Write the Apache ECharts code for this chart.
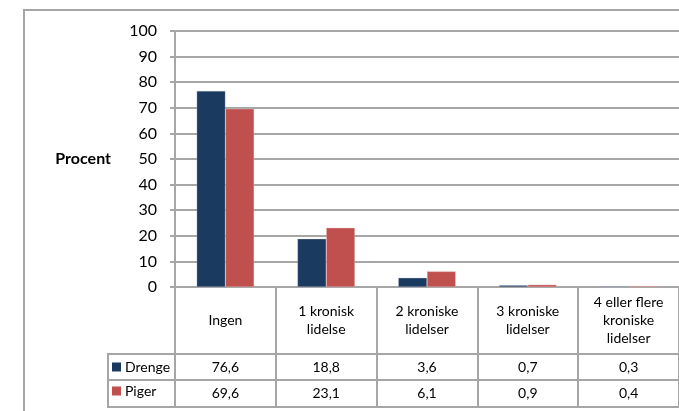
<!DOCTYPE html>
<html>
<head>
<meta charset="utf-8">
<style>
  html, body { margin: 0; padding: 0; background: #fff; }
  #chart { width: 679px; height: 411px; }
</style>
<script src="https://cdn.jsdelivr.net/npm/echarts@6/dist/echarts.min.js"></script>
</head>
<body>
<div id="chart"></div>
<script>
// kategorier (antal kroniske lidelser)
const categories = ['Ingen', '1 kronisk\nlidelse', '2 kroniske\nlidelser', '3 kroniske\nlidelser', '4 eller flere\nkroniske\nlidelser'];
// procent
const drenge = [76.6, 18.8, 3.6, 0.7, 0.3];
const piger = [69.6, 23.1, 6.1, 0.9, 0.4];
const seriesNames = ['Drenge', 'Piger'];
const yTicks = [0, 10, 20, 30, 40, 50, 60, 70, 80, 90, 100];

const FONT = 'Lato, "Open Sans", sans-serif';
const GRID_COLOR = '#a6a6a6';
const fmt = (v) => v.toFixed(1).replace('.', ',');

const myChart = echarts.init(document.getElementById('chart'));

// tabel under diagrammet: kolonnen med serienavne + vandrette linjer
const tableLine = (x1, y1, x2, y2) => ({
    type: 'line',
    shape: { x1, y1, x2, y2 },
    style: { stroke: GRID_COLOR, lineWidth: 2 },
    silent: true
});

// hjaelpe-akse der kun viser en raekke af tabellen
const valueRowAxis = (values, margin) => ({
    type: 'category',
    gridIndex: 0,
    position: 'bottom',
    data: values.map(fmt),
    axisLine: { show: false },
    axisTick: { show: false },
    splitLine: { show: false },
    axisLabel: {
        interval: 0,
        margin: margin,
        verticalAlign: 'middle',
        color: '#000',
        fontFamily: FONT,
        fontSize: 14
    }
});

const options = {
    backgroundColor: '#fff',
    animation: false,
    textStyle: { fontFamily: FONT },
    grid: { left: 175, top: 31, width: 508, bottom: 124 },
    legend: {
        data: seriesNames,
        orient: 'vertical',
        left: 112,
        top: 360,
        padding: 0,
        itemWidth: 9,
        itemHeight: 9,
        itemGap: 10,
        icon: 'rect',
        itemStyle: { borderWidth: 0 },
        textStyle: { color: '#000', fontFamily: FONT, fontSize: 14, padding: [0, 0, 0, -1] }
    },
    xAxis: [
        {
            type: 'category',
            data: categories,
            axisLine: { show: true, lineStyle: { color: GRID_COLOR, width: 2 } },
            axisTick: { show: true, alignWithLabel: false, interval: 0, length: 120, lineStyle: { color: GRID_COLOR, width: 2 } },
            axisLabel: {
                interval: 0,
                margin: 33,
                verticalAlign: 'middle',
                lineHeight: 18,
                color: '#000',
                fontFamily: FONT,
                fontSize: 14
            }
        },
        valueRowAxis(drenge, 80),
        valueRowAxis(piger, 106.5)
    ],
    yAxis: {
        type: 'value',
        min: yTicks[0],
        max: yTicks[yTicks.length - 1],
        interval: 10,
        name: 'Procent',
        nameLocation: 'middle',
        nameRotate: 0,
        nameGap: 64,
        nameTextStyle: { color: '#000', fontWeight: 'bold', fontSize: 16, fontFamily: FONT, align: 'right' },
        axisLine: { show: true, lineStyle: { color: GRID_COLOR, width: 2 } },
        axisTick: { show: true, length: 5, lineStyle: { color: GRID_COLOR, width: 2 } },
        axisLabel: { margin: 18, color: '#000', fontSize: 16, fontFamily: FONT },
        splitLine: { lineStyle: { color: GRID_COLOR, width: 2 } }
    },
    series: [
        {
            name: seriesNames[0],
            type: 'bar',
            data: drenge,
            barGap: '0%',
            barCategoryGap: '43%',
            itemStyle: { color: '#1b3a5f', borderColor: 'rgba(190,200,215,0.6)', borderWidth: 0.5 }
        },
        {
            name: seriesNames[1],
            type: 'bar',
            data: piger,
            barGap: '0%',
            barCategoryGap: '43%',
            itemStyle: { color: '#c0504d', borderColor: 'rgba(235,200,200,0.7)', borderWidth: 0.5 }
        }
    ],
    graphic: [
        // ramme om diagrammet
        {
            type: 'rect',
            shape: { x: 24, y: 10, width: 720, height: 500 },
            style: { fill: 'none', stroke: GRID_COLOR, lineWidth: 2 },
            silent: true,
            z: -1
        },
        tableLine(108, 354, 683, 354),
        tableLine(108, 380, 683, 380),
        tableLine(108, 407, 683, 407),
        tableLine(108, 353, 108, 408)
    ]
};

myChart.setOption(options);
</script>
</body>
</html>
